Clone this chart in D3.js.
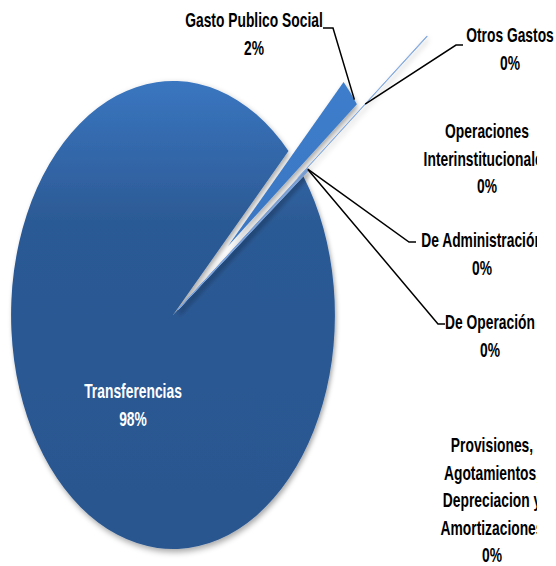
<!DOCTYPE html>
<html>
<head>
<meta charset="utf-8">
<script src="https://cdn.jsdelivr.net/npm/d3@7"></script>
<style>
  body { margin: 0; background: #fff; }
  svg text { font-family: "Liberation Sans", Arial, sans-serif; font-weight: bold; font-size: 20px; }
</style>
</head>
<body>
<svg id="chart" width="556" height="566"></svg>
<script>
// slices in drawing order (clockwise, starting at the gap)
const categories = ["Gasto Publico Social", "Otros Gastos", "Operaciones Interinstitucionales",
  "De Administración", "De Operación", "Provisiones, Agotamientos, Depreciaciones y Amortizaciones", "Transferencias"];
const values = [2.0, 0.05, 0.05, 0.05, 0.05, 0.05, 97.75];
// label lines as they wrap in the box
const labelLines = [
  ["Gasto Publico Social"],
  ["Otros Gastos"],
  ["Operaciones", "Interinstitucionales"],
  ["De Administración"],
  ["De Operación"],
  ["Provisiones,", "Agotamientos,", "Depreciacion y", "Amortizaciones"],
  ["Transferencias"]
];

const svg = d3.select('#chart');
const cx = 173, cy = 315;
const R = 234;              // vertical radius
const sx = 0.692;           // chart is stretched, horizontal squash
const explode = [0.45, 0.97, 0.04, 0.04, 0.04, 0.04, 0];

const defs = svg.append('defs');
const gMain = defs.append('linearGradient').attr('id', 'gMain')
  .attr('x1', 0).attr('y1', 0).attr('x2', 0).attr('y2', 1);
gMain.append('stop').attr('offset', 0).attr('stop-color', '#3a76c0');
gMain.append('stop').attr('offset', 0.3).attr('stop-color', '#2c5a95');
gMain.append('stop').attr('offset', 1).attr('stop-color', '#2a568f');
const gSmall = defs.append('linearGradient').attr('id', 'gSmall')
  .attr('x1', 0).attr('y1', 0).attr('x2', 0).attr('y2', 1);
gSmall.append('stop').attr('offset', 0).attr('stop-color', '#3d7dcb');
gSmall.append('stop').attr('offset', 1).attr('stop-color', '#3a76c2');

const shadow = defs.append('filter').attr('id', 'shadow')
  .attr('x', '-20%').attr('y', '-20%').attr('width', '140%').attr('height', '140%');
shadow.append('feDropShadow').attr('dx', 2).attr('dy', 3).attr('stdDeviation', 3)
  .attr('flood-color', '#000').attr('flood-opacity', 0.35);

defs.append('clipPath').attr('id', 'clipRight')
  .append('rect').attr('x', 0).attr('y', 0).attr('width', 537).attr('height', 566);

const pie = d3.pie().sort(null).value(d => d)
  .startAngle(45.5 * Math.PI / 180).endAngle(405.5 * Math.PI / 180);
const arcs = pie(values);
const arc = d3.arc().innerRadius(0).outerRadius(R);

const total = d3.sum(values);
const pct = v => Math.round(v / total * 100) + '%';

// offset of a slice (unsquashed space)
function offset(i) {
  const a = (arcs[i].startAngle + arcs[i].endAngle) / 2;
  return [Math.sin(a) * R * explode[i], -Math.cos(a) * R * explode[i]];
}
// point in page pixels on a slice, at angle fraction t, radius factor k
function slicePoint(i, t, k) {
  const a = arcs[i].startAngle + (arcs[i].endAngle - arcs[i].startAngle) * t;
  const o = offset(i);
  return [cx + (o[0] + Math.sin(a) * R * k) * sx, cy + o[1] - Math.cos(a) * R * k];
}

const g = svg.append('g').attr('transform', `translate(${cx},${cy}) scale(${sx},1)`);

// draw main slice first, small ones above
const order = [6, 2, 3, 4, 5, 0, 1];
order.forEach(i => {
  const o = offset(i);
  const p = g.append('path')
    .attr('d', arc(arcs[i]))
    .attr('transform', `translate(${o[0]},${o[1]})`)
    .attr('filter', 'url(#shadow)');
  if (i === 6) p.attr('fill', 'url(#gMain)');
  else if (i === 0) p.attr('fill', 'url(#gSmall)');
  else p.attr('fill', '#7fa6dd').attr('stroke', '#7fa6dd').attr('stroke-width', 0.8)
    .attr('vector-effect', 'non-scaling-stroke');
});

// label layout (page pixels): centre x, first baseline, line step
const labelPos = [
  { x: 254, y: 27 }, { x: 510, y: 42 }, { x: 487, y: 138, clip: true },
  { x: 482, y: 247, clip: true }, { x: 490, y: 329, clip: true },
  { x: 492, y: 452, clip: true }, { x: 133, y: 398, color: '#fff' }
];
const step = 27.5;

labelLines.forEach((lines, i) => {
  const pos = labelPos[i];
  const all = lines.concat([pct(values[i])]);
  const grp = svg.append('g');
  if (pos.clip) grp.attr('clip-path', 'url(#clipRight)');
  all.forEach((ln, j) => {
    grp.append('text')
      .attr('transform', `translate(${pos.x},${pos.y + j * step}) scale(${sx},1)`)
      .attr('text-anchor', 'middle')
      .attr('fill', pos.color || '#000')
      .text(ln);
  });
});

// leader lines: [slice, t, k] -> elbow -> end
const leaders = [
  { i: 0, t: 0.8, k: 1.0, pts: [[333, 28], [323, 28]] },
  { i: 1, t: 0.5, k: 0.52, pts: [[456, 45], [463, 45]] },
  { i: 3, t: 0.5, k: 1.0, pts: [[409, 242], [416, 242]] },
  { i: 4, t: 0.5, k: 1.0, pts: [[438, 324], [445, 324]] }
];
leaders.forEach(l => {
  const start = slicePoint(l.i, l.t, l.k);
  svg.append('path')
    .attr('d', d3.line()([start].concat(l.pts)))
    .attr('fill', 'none')
    .attr('stroke', '#000')
    .attr('stroke-width', 1.5);
});
</script>
</body>
</html>
